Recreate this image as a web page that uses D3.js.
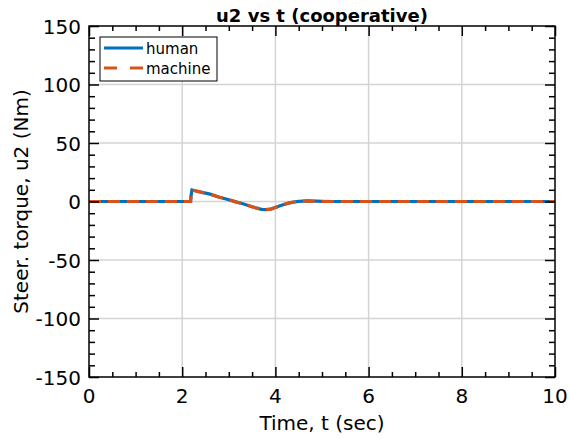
<!DOCTYPE html>
<html><head><meta charset="utf-8">
<script src="https://cdn.jsdelivr.net/npm/d3@7"></script>
<style>body{margin:0;background:#fff}svg{display:block}</style>
</head><body>
<svg id="c" width="571" height="439"></svg>
<script>
const title = "u2 vs t (cooperative)";
const xLabel = "Time, t (sec)";
const yLabel = "Steer. torque, u2 (Nm)";
const xTicks = [0, 2, 4, 6, 8, 10];
const yTicks = [-150, -100, -50, 0, 50, 100, 150];
const seriesNames = ["human", "machine"];
const tValues = [0, 2.18, 2.19, 2.21, 2.3, 2.4, 2.5, 2.6, 2.7, 2.8, 2.9, 3.0, 3.1, 3.2, 3.3, 3.4, 3.5, 3.6, 3.7, 3.8, 3.9, 4.0, 4.1, 4.2, 4.3, 4.4, 4.5, 4.6, 4.7, 4.8, 4.9, 5.0, 5.3, 10];
const humanValues = [0, 0, 5, 9.8, 9, 8, 7.2, 6.3, 5, 3.7, 2.6, 1.5, 0.3, -0.8, -2, -3.2, -4.5, -5.7, -6.7, -7, -6.5, -5.2, -3.7, -2.3, -1.2, -0.4, 0.1, 0.4, 0.5, 0.4, 0.3, 0.1, 0, 0];
const machineValues = [0, 0, 5, 9.8, 9, 8, 7.2, 6.3, 5, 3.7, 2.6, 1.5, 0.3, -0.8, -2, -3.2, -4.5, -5.7, -6.7, -7, -6.5, -5.2, -3.7, -2.3, -1.2, -0.4, 0.1, 0.4, 0.5, 0.4, 0.3, 0.1, 0, 0];

const L = 89, R = 555, T = 26, B = 377;
const svg = d3.select("#c");
const font = "DejaVu Sans, sans-serif";
const x = d3.scaleLinear().domain([0, 10]).range([L, R]);
const y = d3.scaleLinear().domain([-150, 150]).range([B, T]);

// grid
const g = svg.append("g");
g.selectAll(".gx").data(xTicks.slice(1, -1)).join("line")
  .attr("x1", d => x(d)).attr("x2", d => x(d)).attr("y1", T).attr("y2", B)
  .attr("stroke", "#d4d4d4").attr("stroke-width", 1.5);
g.selectAll(".gy").data(yTicks.slice(1, -1)).join("line")
  .attr("y1", d => y(d)).attr("y2", d => y(d)).attr("x1", L).attr("x2", R)
  .attr("stroke", "#d4d4d4").attr("stroke-width", 1.5);

// lines
const line = d3.line().x(d => x(d[0])).y(d => y(d[1]));
const hData = tValues.map((t, i) => [t, humanValues[i]]);
const mData = tValues.map((t, i) => [t, machineValues[i]]);
svg.append("path").datum(hData).attr("d", line).attr("fill", "none")
  .attr("stroke", "#0072BD").attr("stroke-width", 3.2);
svg.append("path").datum(mData).attr("d", line).attr("fill", "none")
  .attr("stroke", "#D95319").attr("stroke-width", 3.2).attr("stroke-dasharray", "12,7");

// axes with inner ticks
function addAxis(axisGen, transform) {
  const a = svg.append("g").attr("transform", transform).call(axisGen);
  a.selectAll("text").remove();
  a.select(".domain").remove();
  a.selectAll("line").attr("stroke", "#000").attr("stroke-width", 1.5);
  return a;
}
const xMinor = d3.range(0, 10.01, 0.5).filter(v => Math.abs(v / 2 - Math.round(v / 2)) > 1e-6);
const yMinor = d3.range(-150, 151, 10).filter(v => v % 50 !== 0);
addAxis(d3.axisTop(x).tickValues(xTicks).tickSize(10), `translate(0,${B})`);
addAxis(d3.axisTop(x).tickValues(xMinor).tickSize(5), `translate(0,${B})`);
addAxis(d3.axisBottom(x).tickValues(xTicks).tickSize(10), `translate(0,${T})`);
addAxis(d3.axisBottom(x).tickValues(xMinor).tickSize(5), `translate(0,${T})`);
addAxis(d3.axisRight(y).tickValues(yTicks).tickSize(10), `translate(${L},0)`);
addAxis(d3.axisRight(y).tickValues(yMinor).tickSize(6), `translate(${L},0)`);
addAxis(d3.axisLeft(y).tickValues(yTicks).tickSize(10), `translate(${R},0)`);
addAxis(d3.axisLeft(y).tickValues(yMinor).tickSize(6), `translate(${R},0)`);

svg.append("rect").attr("x", L).attr("y", T).attr("width", R - L).attr("height", B - T)
  .attr("fill", "none").attr("stroke", "#000").attr("stroke-width", 1.5);

// tick labels
svg.selectAll(".xl").data(xTicks).join("text")
  .attr("x", d => x(d)).attr("y", 403).attr("text-anchor", "middle")
  .attr("font-family", font).attr("font-size", 20).attr("fill", "#000").text(d => d);
svg.selectAll(".yl").data(yTicks).join("text")
  .attr("x", 81).attr("y", d => y(d) + 7.5).attr("text-anchor", "end")
  .attr("font-family", font).attr("font-size", 20).attr("fill", "#000").text(d => d);

// labels
svg.append("text").attr("x", x(5)).attr("y", 430).attr("text-anchor", "middle")
  .attr("font-family", font).attr("font-size", 20).text(xLabel);
svg.append("text").attr("transform", `translate(28,${(T + B) / 2}) rotate(-90)`)
  .attr("text-anchor", "middle").attr("font-family", font).attr("font-size", 20).text(yLabel);
svg.append("text").attr("x", x(5)).attr("y", 22).attr("text-anchor", "middle")
  .attr("font-family", font).attr("font-size", 18).attr("font-weight", "bold").text(title);

// legend
const lg = svg.append("g");
lg.append("rect").attr("x", 100).attr("y", 37).attr("width", 117).attr("height", 44)
  .attr("fill", "#fff").attr("stroke", "#000").attr("stroke-width", 1);
const colors = ["#0072BD", "#D95319"];
seriesNames.forEach((n, i) => {
  const yy = 48 + i * 20;
  lg.append("line").attr("x1", 104).attr("x2", 143).attr("y1", yy).attr("y2", yy)
    .attr("stroke", colors[i]).attr("stroke-width", 3.2)
    .attr("stroke-dasharray", i === 1 ? "13,13" : null);
  lg.append("text").attr("x", 146).attr("y", yy + 5.5).attr("font-family", font)
    .attr("font-size", 15).text(n);
});
</script>
</body></html>
